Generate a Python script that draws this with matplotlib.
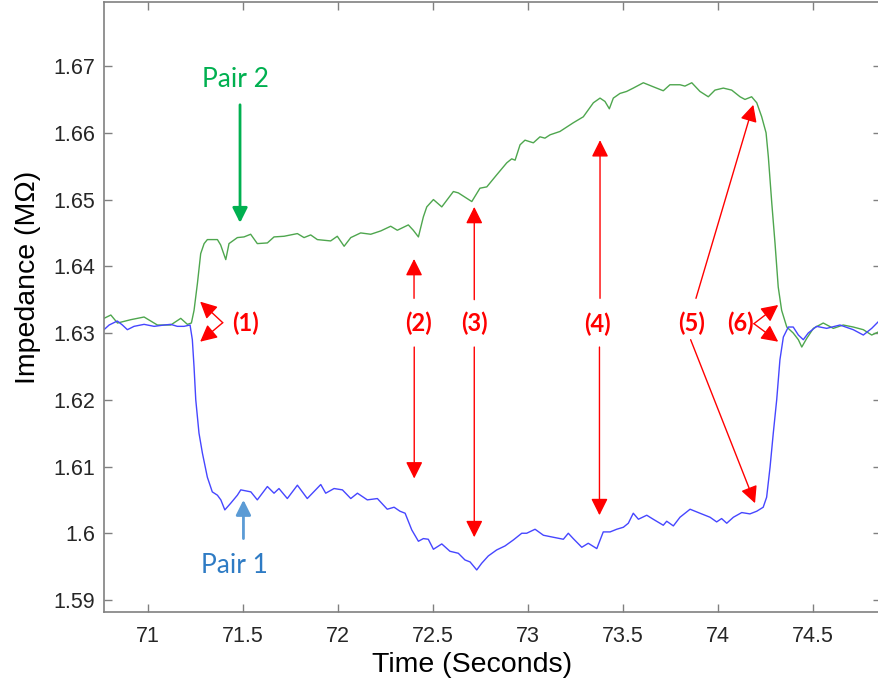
## impedance of two electrode pairs over time, with annotated regions
import matplotlib
matplotlib.use("Agg")
from matplotlib import pyplot as plt
from matplotlib.ticker import FormatStrFormatter, MultipleLocator

# Pair 2 (green trace)
time_pair2 = [70.768, 70.804, 70.839, 70.909, 70.979, 71.049, 71.119, 71.172, 71.207, 71.228,
              71.242, 71.260, 71.277, 71.295, 71.312, 71.330, 71.365, 71.382, 71.409, 71.426,
              71.470, 71.505, 71.540, 71.575, 71.628, 71.663, 71.716, 71.786, 71.821, 71.856,
              71.891, 71.961, 71.996, 72.032, 72.067, 72.119, 72.172, 72.225, 72.277, 72.312,
              72.370, 72.396, 72.423, 72.449, 72.467, 72.502, 72.546, 72.607, 72.633, 72.704,
              72.747, 72.783, 72.835, 72.888, 72.914, 72.932, 72.958, 72.984, 73.028, 73.063,
              73.089, 73.116, 73.168, 73.238, 73.291, 73.344, 73.379, 73.405, 73.428, 73.449,
              73.484, 73.519, 73.554, 73.607, 73.659, 73.712, 73.747, 73.800, 73.826, 73.862,
              73.905, 73.949, 73.984, 74.028, 74.072, 74.116, 74.142, 74.177, 74.204, 74.230,
              74.253, 74.265, 74.283, 74.300, 74.317, 74.335, 74.362, 74.396, 74.423, 74.441,
              74.467, 74.502, 74.554, 74.607, 74.659, 74.712, 74.765, 74.809, 74.847]
imp_pair2 = [1.6322, 1.6327, 1.6315, 1.6320, 1.6324, 1.6312, 1.6312, 1.6322, 1.6313, 1.6315,
             1.6334, 1.6375, 1.6419, 1.6434, 1.6440, 1.6440, 1.6440, 1.6432, 1.6410, 1.6434,
             1.6443, 1.6444, 1.6448, 1.6434, 1.6435, 1.6444, 1.6445, 1.6449, 1.6443, 1.6447,
             1.6440, 1.6438, 1.6445, 1.6430, 1.6443, 1.6450, 1.6448, 1.6453, 1.6460, 1.6454,
             1.6462, 1.6454, 1.6444, 1.6474, 1.6489, 1.6500, 1.6489, 1.6512, 1.6510, 1.6497,
             1.6517, 1.6519, 1.6537, 1.6555, 1.6561, 1.6559, 1.6582, 1.6589, 1.6585, 1.6594,
             1.6592, 1.6597, 1.6602, 1.6615, 1.6624, 1.6645, 1.6652, 1.6647, 1.6636, 1.6652,
             1.6659, 1.6662, 1.6667, 1.6675, 1.6669, 1.6663, 1.6672, 1.6672, 1.6670, 1.6675,
             1.6662, 1.6654, 1.6664, 1.6667, 1.6664, 1.6654, 1.6650, 1.6654, 1.6645, 1.6624,
             1.6600, 1.6564, 1.6495, 1.6435, 1.6369, 1.6334, 1.6309, 1.6300, 1.6290, 1.6279,
             1.6292, 1.6307, 1.6315, 1.6307, 1.6312, 1.6309, 1.6305, 1.6297, 1.6302]

# Pair 1 (blue trace)
time_pair1 = [70.768, 70.795, 70.838, 70.865, 70.891, 70.926, 70.979, 71.032, 71.084, 71.119,
              71.154, 71.189, 71.221, 71.233, 71.242, 71.251, 71.268, 71.286, 71.312, 71.338,
              71.365, 71.383, 71.404, 71.435, 71.470, 71.488, 71.541, 71.575, 71.628, 71.663,
              71.689, 71.733, 71.786, 71.838, 71.909, 71.935, 71.979, 72.023, 72.067, 72.102,
              72.154, 72.207, 72.259, 72.295,
              72.326, 72.353, 72.388, 72.423, 72.449, 72.475, 72.502, 72.546, 72.589, 72.633,
              72.668, 72.695, 72.730, 72.756, 72.791, 72.835, 72.879, 72.923, 72.967, 72.993,
              73.037, 73.081, 73.133, 73.186, 73.212, 73.238, 73.283, 73.317, 73.362, 73.396,
              73.432, 73.467, 73.502, 73.528, 73.554, 73.581, 73.625, 73.659, 73.712, 73.730,
              73.765, 73.800, 73.853,
              73.905, 73.958, 73.993, 74.019, 74.046, 74.081, 74.125, 74.168, 74.204, 74.238,
              74.256, 74.274, 74.291, 74.309, 74.326, 74.344, 74.370, 74.396, 74.423, 74.449,
              74.475, 74.519, 74.572, 74.642, 74.712, 74.765, 74.809, 74.844]
imp_pair1 = [1.6305, 1.6312, 1.6318, 1.6312, 1.6305, 1.6310, 1.6313, 1.6310, 1.6312, 1.6313,
             1.6310, 1.6310, 1.6312, 1.6290, 1.6249, 1.6200, 1.6150, 1.6120, 1.6084, 1.6062,
             1.6057, 1.6050, 1.6035, 1.6045, 1.6057, 1.6065, 1.6062, 1.6050, 1.6070, 1.6060,
             1.6067, 1.6052, 1.6072, 1.6052, 1.6073, 1.6060, 1.6067, 1.6065, 1.6052, 1.6060,
             1.6050, 1.6052, 1.6036, 1.6039,
             1.6033, 1.6030, 1.6005, 1.5988, 1.5992, 1.5991, 1.5976, 1.5984, 1.5973, 1.5970,
             1.5960, 1.5957, 1.5945, 1.5955, 1.5966, 1.5975, 1.5981, 1.5990, 1.6000, 1.6000,
             1.6006, 1.5997, 1.5994, 1.5991, 1.6000, 1.5992, 1.5979, 1.5985, 1.5977, 1.6002,
             1.6002, 1.6006, 1.6009, 1.6015, 1.6030, 1.6021, 1.6027, 1.6021, 1.6012, 1.6018,
             1.6011, 1.6024, 1.6036,
             1.6030, 1.6024, 1.6017, 1.6022, 1.6015, 1.6024, 1.6031, 1.6029, 1.6033, 1.6039,
             1.6054, 1.6099, 1.6150, 1.6200, 1.6260, 1.6294, 1.6309, 1.6309, 1.6297, 1.6290,
             1.6300, 1.6310, 1.6307, 1.6312, 1.6305, 1.6297, 1.6307, 1.6317]

region_labels = ["(1)", "(2)", "(3)", "(4)", "(5)", "(6)"]

fig = plt.figure(figsize=(8.79, 6.9), dpi=100)
ax = fig.add_axes([104 / 879, 78 / 690, 777 / 879, 610 / 690])

ax.plot(time_pair2, imp_pair2, color="#4ea64e", lw=1.0)
ax.plot(time_pair1, imp_pair1, color="#4646ff", lw=1.0)

ax.set_xlim(70.768, 74.858)
ax.set_ylim(1.5882, 1.6796)
ax.xaxis.set_major_locator(MultipleLocator(0.5))
ax.yaxis.set_major_locator(MultipleLocator(0.01))
ax.xaxis.set_major_formatter(FormatStrFormatter("%g"))
ax.yaxis.set_major_formatter(FormatStrFormatter("%g"))

for s in ax.spines.values():
    s.set_color("#808080")
    s.set_linewidth(1.2)
ax.tick_params(direction="in", top=True, right=True, length=6, width=1.0,
               color="#808080", labelcolor="#262626", labelsize=15.5)
ax.tick_params(axis="x", pad=10)
ax.tick_params(axis="y", pad=6.5)
for lab in ax.get_xticklabels() + ax.get_yticklabels():
    lab.set_family("Liberation Sans")

ax.set_xlabel("Time (Seconds)", fontsize=20.5, family="Liberation Sans", va="center")
ax.set_ylabel("Impedance (M\u03a9)", fontsize=20.5, family="Liberation Sans", va="center")
ax.xaxis.set_label_coords(0.4735, -0.087)
ax.yaxis.set_label_coords(-0.098, 0.549)

# pair labels with arrows
ax.text(71.458, 1.6680, "Pair 2", color="#00b050", fontsize=19, family="Lato",
        ha="center", va="center")
ax.annotate("", xy=(71.484, 1.6465), xytext=(71.484, 1.6642),
            arrowprops=dict(arrowstyle="-|>,head_length=0.5,head_width=0.25", color="#00b050",
                            lw=2.0, mutation_scale=18, shrinkA=0, shrinkB=0))
ax.text(71.453, 1.5952, "Pair 1", color="#2e7bc4", fontsize=19, family="Lato",
        ha="center", va="center")
ax.annotate("", xy=(71.502, 1.6050), xytext=(71.502, 1.5992),
            arrowprops=dict(arrowstyle="-|>,head_length=0.5,head_width=0.25", color="#5b9bd5",
                            lw=2.0, mutation_scale=18, shrinkA=0, shrinkB=0))

# red region annotations: label position, then arrows as (tail, head)
red = "#ff0000"
red_arrow = dict(arrowstyle="-|>,head_length=0.6,head_width=0.3", color=red, lw=1.0,
                 mutation_scale=17, shrinkA=0, shrinkB=0)
label_pos = [(71.515, 1.6315), (72.421, 1.6315), (72.717, 1.6314),
             (73.368, 1.6313), (73.862, 1.6314), (74.116, 1.6314)]
arrows = [
    [((71.393, 1.63155), (71.274, 1.6347)), ((71.393, 1.63155), (71.274, 1.6287))],
    [((72.400, 1.6352), (72.400, 1.6411)), ((72.401, 1.6279), (72.401, 1.6082))],
    [((72.717, 1.6350), (72.717, 1.6489)), ((72.717, 1.6279), (72.717, 1.5994))],
    [((73.379, 1.6352), (73.379, 1.6589)), ((73.376, 1.6279), (73.376, 1.6027))],
    [((73.884, 1.6352), (74.186, 1.6642)), ((73.856, 1.6290), (74.195, 1.6045))],
    [((74.189, 1.6314), (74.317, 1.6342)), ((74.189, 1.6314), (74.317, 1.6287))],
]
for lab, pos, arr in zip(region_labels, label_pos, arrows):
    ax.text(pos[0], pos[1], lab, color=red, fontsize=17, fontweight="bold", family="Lato",
            ha="center", va="center")
    for tail, head in arr:
        ax.annotate("", xy=head, xytext=tail, arrowprops=red_arrow)

fig.savefig("out.png", dpi=100)
